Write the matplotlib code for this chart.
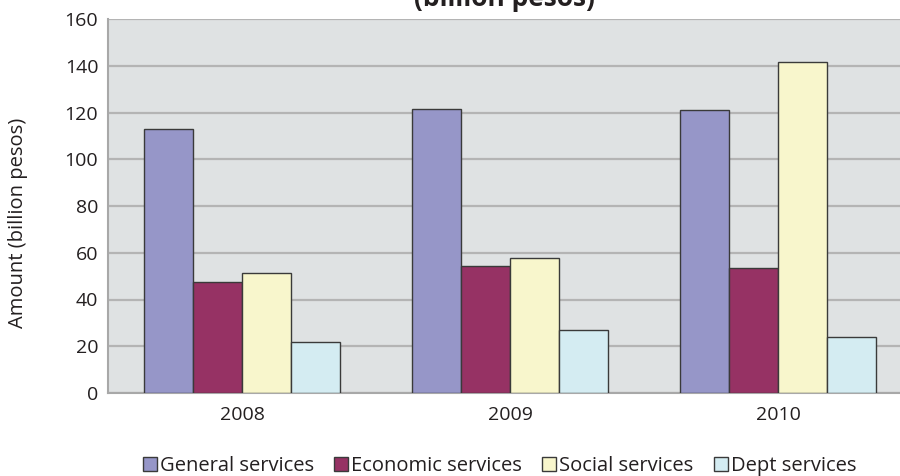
import numpy as np
import matplotlib
matplotlib.use("Agg")
import matplotlib.pyplot as plt

plt.rcParams['font.family'] = ['Open Sans', 'DejaVu Sans']

years = ["2008", "2009", "2010"]
series = ["General services", "Economic services", "Social services", "Dept services"]
general = [113, 121.5, 121]
economic = [47.4, 54.3, 53.4]
social = [51.4, 57.8, 141.6]
dept = [22, 27, 24]
values = [general, economic, social, dept]
colors = ["#9696c8", "#963264", "#f8f6cc", "#d4ecf2"]

fig = plt.figure(figsize=(9, 4.76), dpi=100)
ax = fig.add_axes([108/900, 1-393/476, 792/900, (393-19)/476])
ax.set_facecolor("#dfe2e3")

x = np.arange(len(years))
w = 0.183
for i, (vals, c, name) in enumerate(zip(values, colors, series)):
    ax.bar(x + (i - 1.5) * w, vals, w, color=c, edgecolor="#3a3a3a",
           linewidth=1.0, label=name, zorder=3)

ax.set_ylim(0, 160)
ax.set_xlim(-0.5, 2.455)
ax.set_yticks(range(0, 161, 20))
ax.set_xticks(x)
ax.set_xticklabels(years)
ax.yaxis.grid(True, color="#b4b4b4", linewidth=1.6, zorder=0)
ax.tick_params(length=0, labelsize=14, colors="#231f20")
ax.tick_params(axis='x', pad=9)
ax.tick_params(axis='y', pad=7)
for s in ["top", "right"]:
    ax.spines[s].set_visible(False)
for s in ["left", "bottom"]:
    ax.spines[s].set_color("#a8a8a8")
    ax.spines[s].set_linewidth(1.5)
ax.set_ylabel("Amount (billion pesos)", fontsize=14.5, color="#231f20")
ax.yaxis.set_label_coords(-80/792, 0.455)

fig.text(0.56, 1 - 6/476, "(billion pesos)", fontsize=19, fontweight="bold",
         ha="center", va="baseline", color="#231f20")

fig.legend(loc="center", bbox_to_anchor=(0.555, 1 - 466/476), ncol=4, frameon=False,
           fontsize=14.5, handlelength=0.7, handleheight=0.7, handletextpad=0.15,
           columnspacing=1.0, labelcolor="#231f20")

fig.savefig("out.png", dpi=100)
